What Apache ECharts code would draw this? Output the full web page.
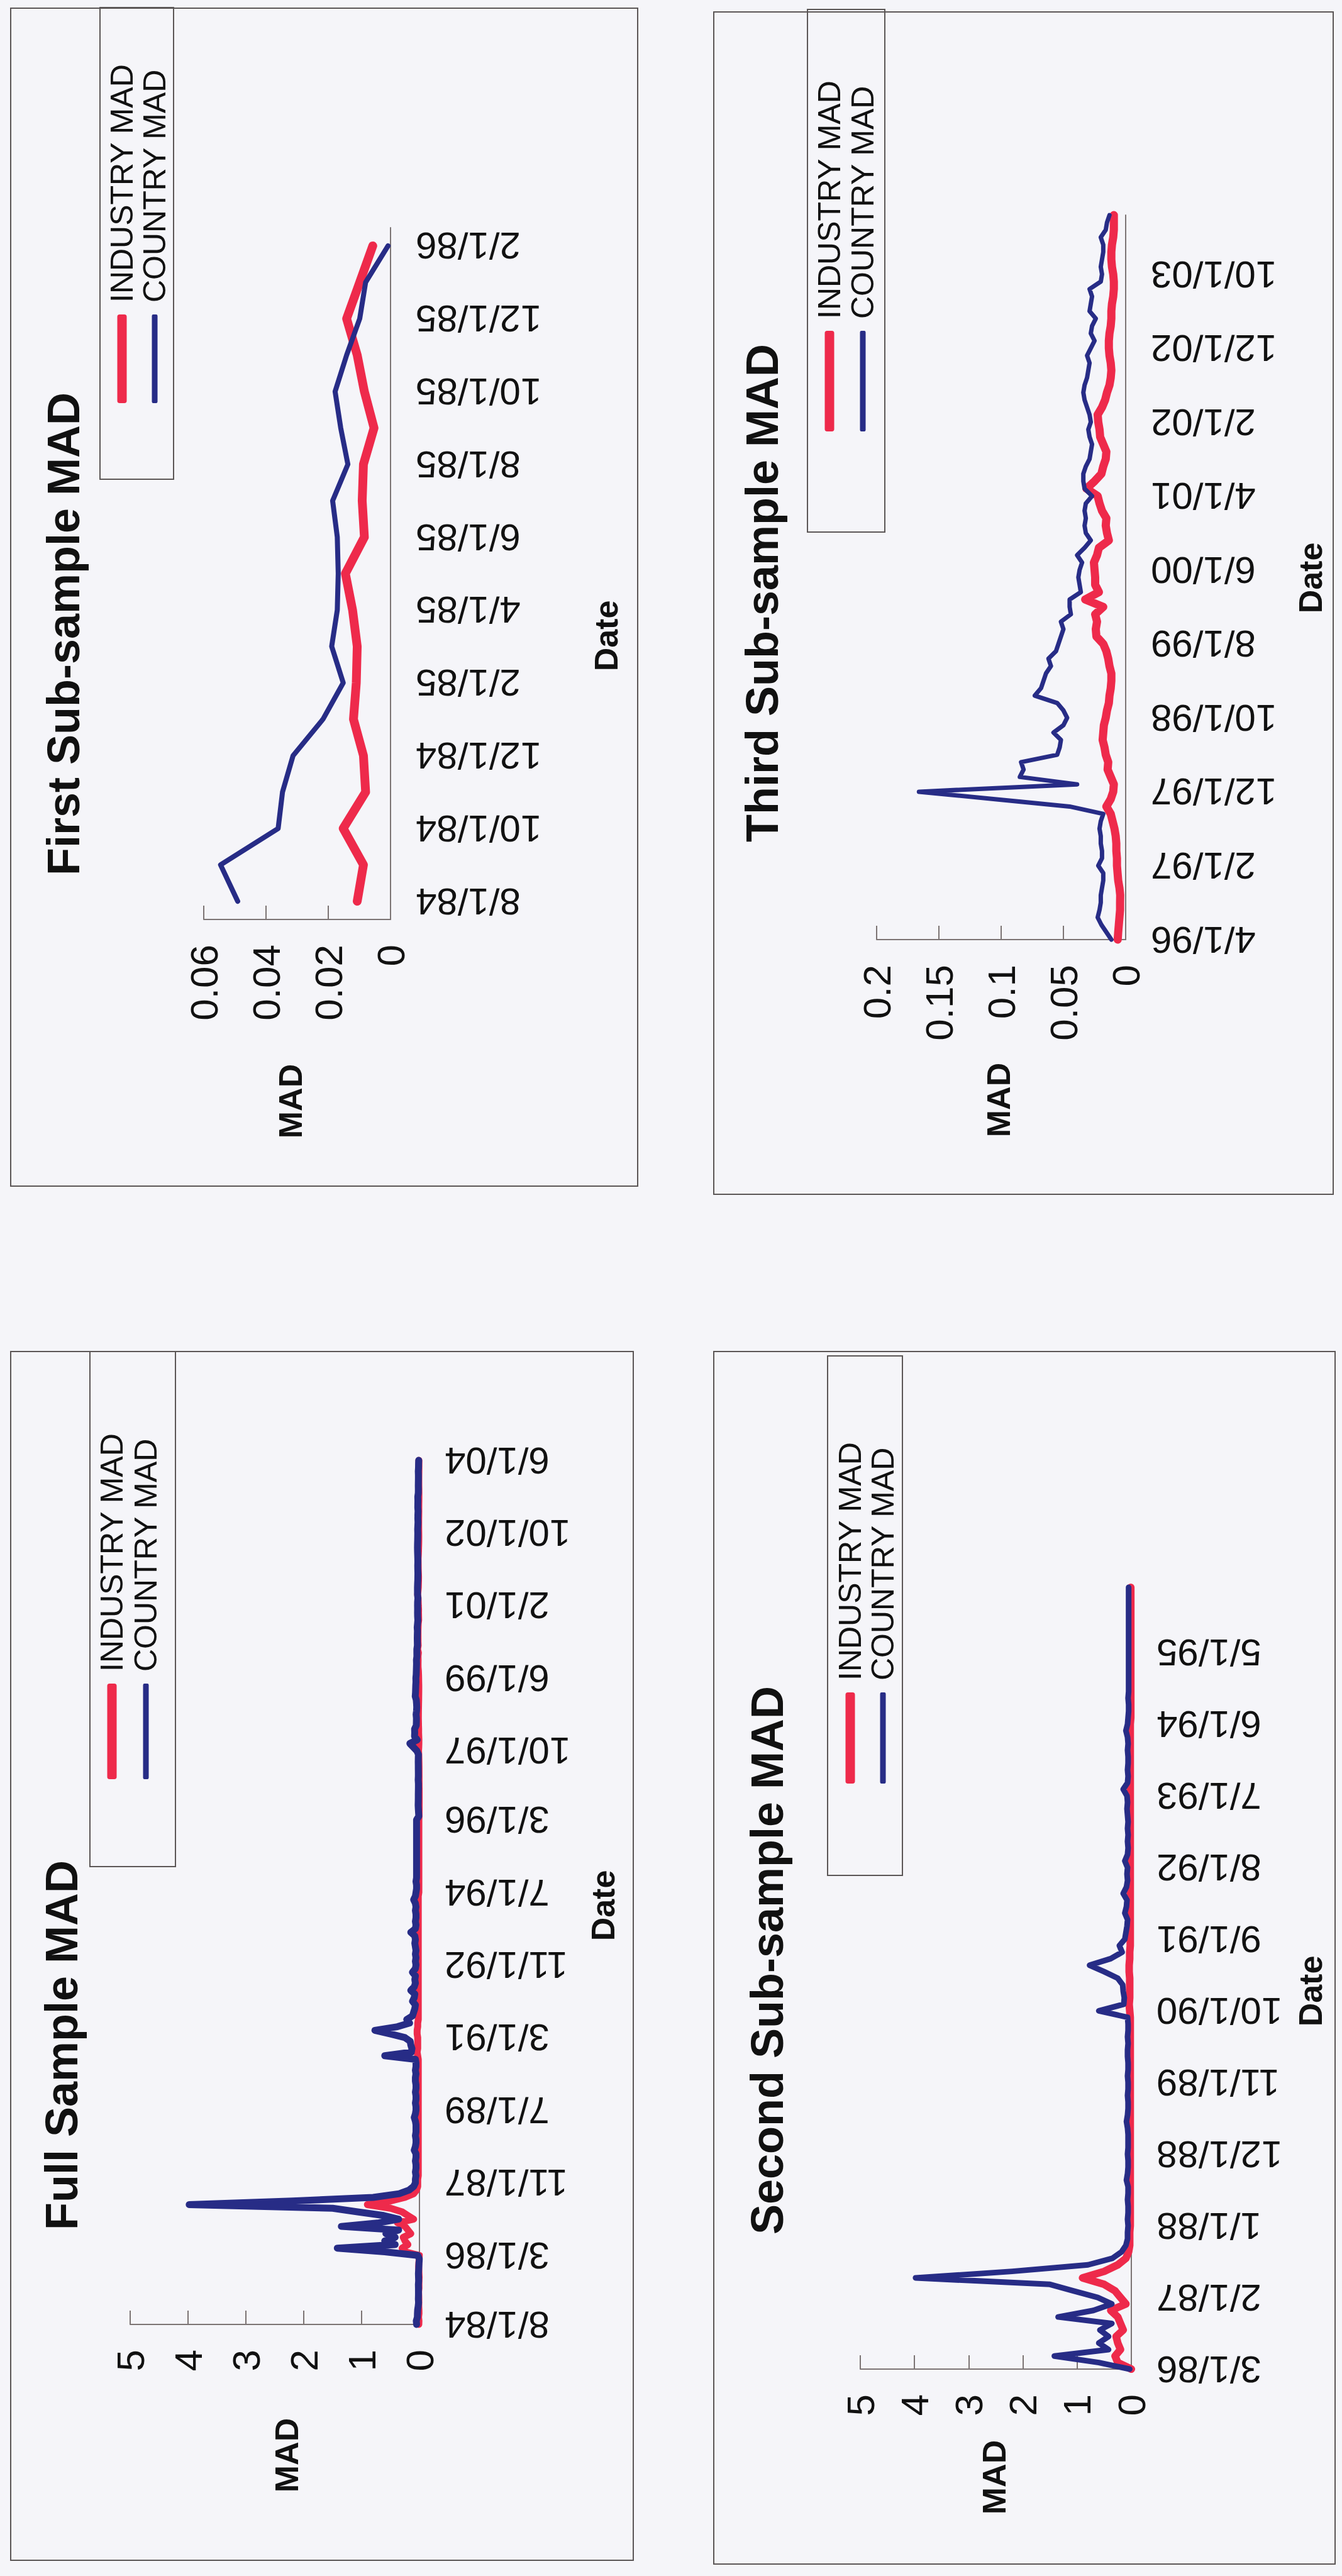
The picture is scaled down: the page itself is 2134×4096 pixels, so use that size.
<!DOCTYPE html>
<html>
<head>
<meta charset="utf-8">
<script src="https://cdn.jsdelivr.net/npm/echarts@6/dist/echarts.min.js"></script>
<style>
  html, body { margin: 0; padding: 0; background: #f5f5f9; overflow: hidden; }
  body { width: 2134px; height: 4096px; position: relative; }
  /* the sheet is laid out landscape and turned a quarter turn counter-clockwise */
  #sheet { position: absolute; left: 0; top: 0; width: 4096px; height: 2134px;
           transform-origin: 0 0; transform: translate(0, 4096px) rotate(-90deg); }
</style>
</head>
<body>
<div id="sheet"></div>
<script>
// ---------- data ----------
const firstTicks  = ['8/1/84','10/1/84','12/1/84','2/1/85','4/1/85','6/1/85','8/1/85','10/1/85','12/1/85','2/1/86'];
const secondTicks = ['3/1/86','2/1/87','1/1/88','12/1/88','11/1/89','10/1/90','9/1/91','8/1/92','7/1/93','6/1/94','5/1/95'];
const thirdTicks  = ['4/1/96','2/1/97','12/1/97','10/1/98','8/1/99','6/1/00','4/1/01','2/1/02','12/1/02','10/1/03'];
const fullTicks   = ['8/1/84','3/1/86','11/1/87','7/1/89','3/1/91','11/1/92','7/1/94','3/1/96','10/1/97','6/1/99','2/1/01','10/1/02','6/1/04'];

// first sub-sample: Aug 1984 - Feb 1986
const firstIndustry = [0.0107, 0.0087, 0.0152, 0.0080, 0.0087, 0.0119, 0.0110, 0.0107, 0.0122, 0.0145,
                       0.0084, 0.0091, 0.0087, 0.0053, 0.0084, 0.0107, 0.0141, 0.0099, 0.0057];
const firstCountry  = [0.0491, 0.0546, 0.0361, 0.0347, 0.0313, 0.0217, 0.0152, 0.0189, 0.0171, 0.0168,
                       0.0171, 0.0186, 0.0137, 0.0160, 0.0178, 0.0141, 0.0099, 0.0080, 0.0008];

// second sub-sample: Mar 1986 - Mar 1996
const secondIndustry = [
  0.00, 0.25, 0.30, 0.20, 0.25, 0.28, 0.15, 0.20, 0.25, 0.38,
  0.10, 0.20, 0.30, 0.50, 0.90, 0.50, 0.25, 0.10, 0.05, 0.03,
  0.03, 0.03, 0.02, 0.02, 0.02, 0.02, 0.02, 0.02, 0.02, 0.02,
  0.02, 0.02, 0.02, 0.02, 0.02, 0.02, 0.02, 0.02, 0.02, 0.02,
  0.02, 0.02, 0.02, 0.02, 0.02, 0.02, 0.02, 0.02, 0.02, 0.02,
  0.02, 0.02, 0.02, 0.02, 0.02, 0.03, 0.04, 0.03, 0.03, 0.03,
  0.03, 0.04, 0.04, 0.03, 0.03, 0.02, 0.02, 0.02, 0.02, 0.02,
  0.02, 0.02, 0.02, 0.02, 0.02, 0.02, 0.02, 0.02, 0.02, 0.02,
  0.02, 0.02, 0.02, 0.02, 0.02, 0.02, 0.02, 0.02, 0.02, 0.02,
  0.02, 0.02, 0.02, 0.02, 0.02, 0.02, 0.02, 0.02, 0.02, 0.02,
  0.01, 0.01, 0.01, 0.01, 0.01, 0.01, 0.01, 0.01, 0.01, 0.01,
  0.01, 0.01, 0.01, 0.01, 0.01, 0.01, 0.01, 0.01, 0.01, 0.01,
  0.01];
const secondCountry = [
  0.03, 0.60, 1.42, 0.42, 0.60, 0.42, 0.58, 0.36, 1.35, 0.70,
  0.36, 0.62, 1.07, 1.50, 3.98, 2.20, 0.80, 0.35, 0.18, 0.10,
  0.07, 0.07, 0.06, 0.07, 0.06, 0.06, 0.07, 0.06, 0.06, 0.09,
  0.07, 0.06, 0.06, 0.07, 0.06, 0.06, 0.06, 0.07, 0.09, 0.07,
  0.06, 0.06, 0.07, 0.06, 0.06, 0.07, 0.06, 0.06, 0.07, 0.07,
  0.06, 0.07, 0.06, 0.06, 0.07, 0.60, 0.14, 0.13, 0.15, 0.16,
  0.25, 0.50, 0.77, 0.38, 0.17, 0.22, 0.12, 0.10, 0.08, 0.07,
  0.12, 0.09, 0.08, 0.15, 0.09, 0.07, 0.08, 0.07, 0.12, 0.07,
  0.06, 0.07, 0.06, 0.07, 0.06, 0.07, 0.08, 0.07, 0.08, 0.15,
  0.07, 0.06, 0.07, 0.06, 0.06, 0.07, 0.06, 0.07, 0.10, 0.07,
  0.06, 0.05, 0.05, 0.06, 0.05, 0.05, 0.05, 0.05, 0.05, 0.05,
  0.05, 0.05, 0.05, 0.05, 0.05, 0.05, 0.05, 0.05, 0.05, 0.05,
  0.05];

// third sub-sample: Apr 1996 - Jun 2004
const thirdIndustry = [
  0.0064, 0.0060, 0.0055, 0.0050, 0.0045, 0.0045, 0.0044, 0.0050, 0.0060, 0.0065,
  0.0070, 0.0070, 0.0075, 0.0075, 0.0080, 0.0090, 0.0105, 0.0120, 0.0155, 0.0120,
  0.0100, 0.0095, 0.0120, 0.0145, 0.0140, 0.0160, 0.0170, 0.0185, 0.0180, 0.0175,
  0.0160, 0.0150, 0.0135, 0.0130, 0.0120, 0.0115, 0.0115, 0.0130, 0.0140, 0.0155,
  0.0180, 0.0235, 0.0240, 0.0230, 0.0245, 0.0180, 0.0325, 0.0215, 0.0245, 0.0245,
  0.0250, 0.0255, 0.0230, 0.0215, 0.0135, 0.0150, 0.0160, 0.0155, 0.0190, 0.0210,
  0.0225, 0.0315, 0.0250, 0.0195, 0.0180, 0.0160, 0.0155, 0.0180, 0.0205, 0.0210,
  0.0220, 0.0225, 0.0190, 0.0165, 0.0150, 0.0130, 0.0120, 0.0115, 0.0120, 0.0130,
  0.0135, 0.0135, 0.0130, 0.0120, 0.0115, 0.0115, 0.0110, 0.0100, 0.0095, 0.0095,
  0.0100, 0.0110, 0.0115, 0.0115, 0.0110, 0.0100, 0.0095, 0.0095, 0.0095];
const thirdCountry = [
  0.0115, 0.0155, 0.0195, 0.0225, 0.0210, 0.0200, 0.0200, 0.0190, 0.0180, 0.0180,
  0.0220, 0.0190, 0.0190, 0.0200, 0.0200, 0.0210, 0.0200, 0.0180, 0.0450, 0.1050,
  0.1660, 0.0390, 0.0850, 0.0820, 0.0840, 0.0550, 0.0530, 0.0520, 0.0580, 0.0500,
  0.0470, 0.0500, 0.0550, 0.0730, 0.0680, 0.0660, 0.0640, 0.0600, 0.0620, 0.0560,
  0.0540, 0.0520, 0.0500, 0.0520, 0.0440, 0.0450, 0.0450, 0.0360, 0.0370, 0.0380,
  0.0370, 0.0350, 0.0390, 0.0330, 0.0280, 0.0320, 0.0330, 0.0320, 0.0330, 0.0320,
  0.0270, 0.0330, 0.0340, 0.0340, 0.0320, 0.0290, 0.0280, 0.0270, 0.0290, 0.0300,
  0.0280, 0.0290, 0.0310, 0.0330, 0.0340, 0.0330, 0.0310, 0.0300, 0.0290, 0.0310,
  0.0280, 0.0250, 0.0280, 0.0270, 0.0240, 0.0290, 0.0280, 0.0270, 0.0290, 0.0200,
  0.0190, 0.0200, 0.0190, 0.0180, 0.0180, 0.0200, 0.0160, 0.0150, 0.0130];

// the full sample is the three sub-samples joined end to end
const fullIndustry = firstIndustry.concat(secondIndustry, thirdIndustry);
const fullCountry  = firstCountry.concat(secondCountry, thirdCountry);

// monthly date categories written as M/1/YY
function monthLabels(month, year, count) {
  const out = [];
  for (let k = 0; k < count; k++) {
    const m = (month - 1 + k) % 12 + 1;
    const y = (year + Math.floor((month - 1 + k) / 12)) % 100;
    out.push(m + '/1/' + String(y).padStart(2, '0'));
  }
  return out;
}
const firstDates  = monthLabels(8, 1984, firstIndustry.length);
const secondDates = monthLabels(3, 1986, secondIndustry.length);
const thirdDates  = monthLabels(4, 1996, thirdIndustry.length);
const fullDates   = monthLabels(8, 1984, fullIndustry.length);

// ---------- styling / layout ----------
const FONT = "'Liberation Sans', Arial, Helvetica, sans-serif";
const RED = '#ee2a4b';
const BLUE = '#272c86';
const FRAME = '#5b5656';
const AXIS = '#7c7474';

const panels = [
  { title: 'Full Sample MAD', dates: fullDates, ticks: fullTicks, industry: fullIndustry, country: fullCountry,
    max: 5, step: 1, gap: false, redW: 11, blueW: 11,
    frame: [25, 17, 1922, 990], grid: { left: 400, top: 207, width: 1374, height: 460 },
    titleAt: [844, 98], madAt: [192, 456], dateAt: [1066, 959],
    legendBox: [1128, 143, 819, 136], legendX: 1267, legendW: 152, rows: [178, 232] },
  { title: 'First Sub-sample MAD', dates: firstDates, ticks: firstTicks, industry: firstIndustry, country: firstCountry,
    max: 0.06, step: 0.02, gap: true, redW: 14, blueW: 8,
    frame: [2210, 17, 1873, 997], grid: { left: 2634, top: 324, width: 1100, height: 297 },
    titleAt: [3088, 101], madAt: [2345, 462], dateAt: [3085, 964],
    legendBox: [3334, 159, 750, 117], legendX: 3455, legendW: 141, rows: [194, 246] },
  { title: 'Second Sub-sample MAD', dates: secondDates, ticks: secondTicks, industry: secondIndustry, country: secondCountry,
    max: 5, step: 1, gap: false, redW: 12, blueW: 9,
    frame: [19, 1135, 1928, 988], grid: { left: 329, top: 1368, width: 1243, height: 431 },
    titleAt: [979, 1220], madAt: [157, 1581], dateAt: [930, 2084],
    legendBox: [1114, 1316, 826, 119], legendX: 1260, legendW: 145, rows: [1352, 1404] },
  { title: 'Third Sub-sample MAD', dates: thirdDates, ticks: thirdTicks, industry: thirdIndustry, country: thirdCountry,
    max: 0.2, step: 0.05, gap: false, redW: 13, blueW: 7,
    frame: [2197, 1135, 1880, 985], grid: { left: 2602, top: 1394, width: 1152, height: 396 },
    titleAt: [3153, 1212], madAt: [2347, 1588], dateAt: [3177, 2084],
    legendBox: [3250, 1284, 831, 123], legendX: 3410, legendW: 160, rows: [1319, 1372] }
];

const option = {
  backgroundColor: 'transparent',
  animation: false,
  grid: [], xAxis: [], yAxis: [], series: [], legend: [], graphic: []
};

panels.forEach((p, k) => {
  option.grid.push(Object.assign({ containLabel: false, outerBoundsMode: 'none' }, p.grid));
  option.xAxis.push({
    type: 'category', gridIndex: k, data: p.dates, boundaryGap: p.gap,
    axisLine: { show: true, lineStyle: { color: AXIS, width: 2 } },
    axisTick: { show: false },
    splitLine: { show: false },
    axisLabel: {
      rotate: 90, margin: 40, fontSize: 60, color: '#111', fontFamily: FONT,
      interval: (idx, val) => p.ticks.indexOf(val) >= 0
    }
  });
  option.yAxis.push({
    type: 'value', gridIndex: k, min: 0, max: p.max, interval: p.step,
    axisLine: { show: true, lineStyle: { color: AXIS, width: 2 } },
    axisTick: { show: true, inside: true, length: 22, lineStyle: { color: AXIS, width: 2 } },
    splitLine: { show: false },
    axisLabel: { margin: 40, fontSize: 62, color: '#111', fontFamily: FONT }
  });
  option.series.push({
    type: 'line', name: 'INDUSTRY MAD', xAxisIndex: k, yAxisIndex: k, data: p.industry,
    symbol: 'none', color: RED, lineStyle: { width: p.redW, color: RED, cap: 'round', join: 'round' }, z: 2
  });
  option.series.push({
    type: 'line', name: 'COUNTRY MAD', xAxisIndex: k, yAxisIndex: k, data: p.country,
    symbol: 'none', color: BLUE, lineStyle: { width: p.blueW, color: BLUE, cap: 'round', join: 'round' }, z: 3
  });
  [['INDUSTRY MAD', RED, 15, p.rows[0]], ['COUNTRY MAD', BLUE, 9, p.rows[1]]].forEach(([name, col, th, yc]) => {
    option.legend.push({
      data: [name], left: p.legendX, top: yc - 25, orient: 'horizontal', padding: 0, itemGap: 0,
      itemWidth: p.legendW, itemHeight: th, icon: 'roundRect', selectedMode: false,
      itemStyle: { color: col },
      textStyle: { fontSize: 50, lineHeight: 50, color: '#111', fontFamily: FONT, padding: [0, 0, 0, 14] }
    });
  });
  const [fx, fy, fw, fh] = p.frame;
  option.graphic.push({ type: 'rect', silent: true, shape: { x: fx, y: fy, width: fw, height: fh },
    style: { fill: 'none', stroke: FRAME, lineWidth: 2 } });
  const [lx, ly, lw, lh] = p.legendBox;
  option.graphic.push({ type: 'rect', silent: true, shape: { x: lx, y: ly, width: lw, height: lh },
    style: { fill: 'none', stroke: FRAME, lineWidth: 2 } });
  option.graphic.push({ type: 'text', silent: true, x: p.titleAt[0], y: p.titleAt[1],
    style: { text: p.title, fontSize: 72, fontWeight: 'bold', fontFamily: FONT, fill: '#111',
             align: 'center', verticalAlign: 'middle' } });
  option.graphic.push({ type: 'text', silent: true, x: p.madAt[0], y: p.madAt[1],
    style: { text: 'MAD', fontSize: 52, fontWeight: 'bold', fontFamily: FONT, fill: '#111',
             align: 'center', verticalAlign: 'middle' } });
  option.graphic.push({ type: 'text', silent: true, x: p.dateAt[0], y: p.dateAt[1],
    style: { text: 'Date', fontSize: 52, fontWeight: 'bold', fontFamily: FONT, fill: '#111',
             align: 'center', verticalAlign: 'middle' } });
});

const chart = echarts.init(document.getElementById('sheet'), null, { renderer: 'svg', width: 4096, height: 2134 });
chart.setOption(option);
</script>
</body>
</html>
